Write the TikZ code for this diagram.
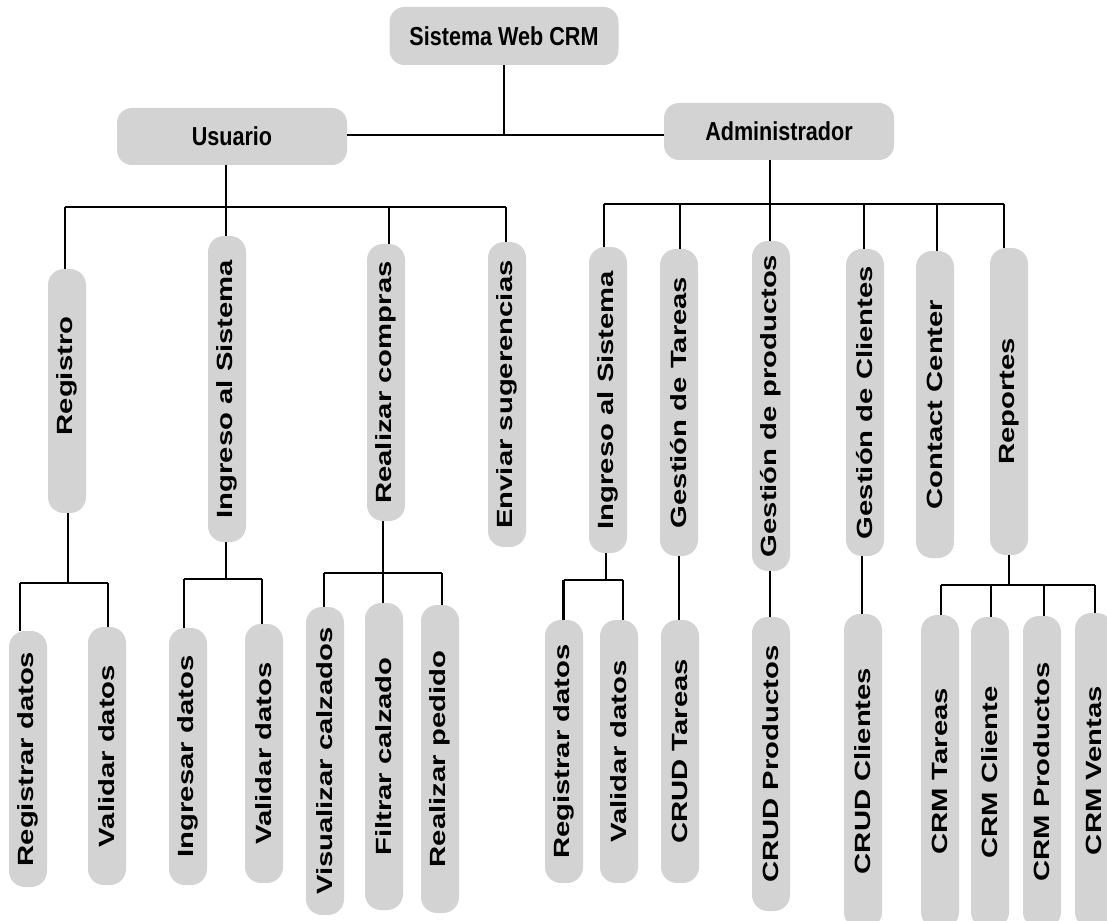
\documentclass[tikz,border=0pt]{standalone}
\usepackage{fontspec}
\setmainfont{Liberation Sans}
\newfontfamily\headfont[FakeStretch=0.83]{Liberation Sans}
\newfontfamily\sidefont[FakeStretch=1.33]{Liberation Sans}
\definecolor{boxgray}{RGB}{211,211,211}
\tikzset{
  box/.style={fill=boxgray, rounded corners=15pt, inner sep=0pt,
    font=\headfont\bfseries\fontsize{26}{28}\selectfont},
  tall/.style={fill=boxgray, rounded corners=16pt, inner sep=0pt,
    minimum height=38pt, rotate=90,
    font=\sidefont\bfseries\fontsize{22}{24}\selectfont},
  wire/.style={line width=2.8pt, black}
}
\begin{document}
\begin{tikzpicture}[x=1pt,y=-1pt]
\fill[white] (0,0) rectangle (1107,920);
\useasboundingbox (0,0) rectangle (1107,920);
\clip (0,0) rectangle (1107,920);

% top levels
\node[box, minimum width=229pt, minimum height=58pt] (top) at (504,36) {Sistema Web CRM};
\node[box, minimum width=230pt, minimum height=57pt] (usr) at (232,136.5) {Usuario};
\node[box, minimum width=230pt, minimum height=57pt] (adm) at (779,131.5) {Administrador};

% user branches
\node[tall, minimum width=244pt] (reg)  at (67,391)    {\hspace*{30pt}Registro};
\node[tall, minimum width=306pt] (ingu) at (227,389)   {Ingreso al Sistema};
\node[tall, minimum width=277pt] (rea)  at (386,382.5) {Realizar compras};
\node[tall, minimum width=305pt] (env)  at (507,394.5) {Enviar sugerencias};

% admin branches
\node[tall, minimum width=306pt] (inga) at (608,400)   {Ingreso al Sistema};
\node[tall, minimum width=307pt] (gtar) at (679,402.5) {Gestión de Tareas};
\node[tall, minimum width=330pt] (gpro) at (771,406)   {Gestión de productos};
\node[tall, minimum width=307pt] (gcli) at (865,402.5) {Gestión de Clientes};
\node[tall, minimum width=307pt] (cont) at (935,404.5) {Contact Center};
\node[tall, minimum width=307pt] (rep)  at (1009,401.5) {Reportes};

% leaves
\node[tall, minimum width=256pt] (regd)  at (28,759)    {Registrar datos};
\node[tall, minimum width=258pt] (vald1) at (107,756)   {Validar datos};
\node[tall, minimum width=257pt] (ingd)  at (188,756.5) {Ingresar datos};
\node[tall, minimum width=259pt] (vald2) at (264,753.5) {Validar datos};
\node[tall, minimum width=308pt] (vis)   at (325,761)   {Visualizar calzados};
\node[tall, minimum width=307pt] (fil)   at (384,756.5) {Filtrar calzado};
\node[tall, minimum width=308pt] (rped)  at (440,759)   {Realizar pedido};
\node[tall, minimum width=263pt] (regda) at (564,751.5) {Registrar datos};
\node[tall, minimum width=263pt] (valda) at (619,751.5) {Validar datos};
\node[tall, minimum width=263pt] (crudt) at (680,751.5) {CRUD Tareas};
\node[tall, minimum width=294pt] (crudp) at (771,764)   {CRUD Productos};
\node[tall, minimum width=314pt] (crudc) at (863,771)   {CRUD Clientes};
\node[tall, minimum width=313pt] (crmt)  at (940,771.5) {CRM Tareas};
\node[tall, minimum width=311pt] (crmc)  at (990,772.5) {CRM Cliente};
\node[tall, minimum width=312pt] (crmp)  at (1042,772)  {CRM Productos};
\node[tall, minimum width=315pt] (crmv)  at (1094,770.5) {CRM Ventas};

% junction points
\coordinate (tj) at (504,135);
\coordinate (ub) at (226,207);
\coordinate (ubl) at (65,207);
\coordinate (ubr) at (506,207);
\coordinate (ub3) at (389,207);
\coordinate (ab) at (770,204);
\coordinate (abl) at (604,204);
\coordinate (abr) at (1004,204);
\coordinate (ab2) at (680,204);
\coordinate (ab4) at (864,204);
\coordinate (ab5) at (937,204);
\coordinate (rj) at (68,583);
\coordinate (rjl) at (20,583);
\coordinate (rjr) at (108,583);
\coordinate (ij) at (226,579);
\coordinate (ijl) at (184,579);
\coordinate (ijr) at (262,579);
\coordinate (cj) at (383,573);
\coordinate (cjl) at (324,573);
\coordinate (cjr) at (442,573);
\coordinate (aj) at (606,580);
\coordinate (ajl) at (563.5,580);
\coordinate (ajr) at (623,580);
\coordinate (pj) at (1009,585);
\coordinate (pjl) at (941,585);
\coordinate (pj2) at (991,585);
\coordinate (pj3) at (1044,585);
\coordinate (pjr) at (1095,585);

% root connectors
\draw[wire] (top.south -| tj) -- (tj);
\draw[wire] (usr.east |- tj) -- (adm.west |- tj);

% user tree
\draw[wire] (usr.south -| ub) -- (ub);
\draw[wire] (ubl) -- (ubr);
\draw[wire] (ubl) -- (ubl |- reg.east);
\draw[wire] (ub) -- (ub |- ingu.east);
\draw[wire] (ub3) -- (ub3 |- rea.east);
\draw[wire] (ubr) -- (ubr |- env.east);

\draw[wire] (reg.west -| rj) -- (rj);
\draw[wire] (rjl) -- (rjr);
\draw[wire] (rjl) -- (rjl |- regd.east);
\draw[wire] (rjr) -- (rjr |- vald1.east);

\draw[wire] (ingu.west -| ij) -- (ij);
\draw[wire] (ijl) -- (ijr);
\draw[wire] (ijl) -- (ijl |- ingd.east);
\draw[wire] (ijr) -- (ijr |- vald2.east);

\draw[wire] (rea.west -| cj) -- (cj);
\draw[wire] (cjl) -- (cjr);
\draw[wire] (cjl) -- (cjl |- vis.east);
\draw[wire] (cj) -- (cj |- fil.east);
\draw[wire] (cjr) -- (cjr |- rped.east);

% admin tree
\draw[wire] (adm.south -| ab) -- (ab);
\draw[wire] (abl) -- (abr);
\draw[wire] (abl) -- (abl |- inga.east);
\draw[wire] (ab2) -- (ab2 |- gtar.east);
\draw[wire] (ab) -- (ab |- gpro.east);
\draw[wire] (ab4) -- (ab4 |- gcli.east);
\draw[wire] (ab5) -- (ab5 |- cont.east);
\draw[wire] (abr) -- (abr |- rep.east);

\draw[wire] (inga.west -| aj) -- (aj);
\draw[wire] (ajl) -- (ajr);
\draw[wire] (ajl) -- (ajl |- regda.east);
\draw[wire] (ajr) -- (ajr |- valda.east);

\draw[wire] (gtar.west) -- (crudt.east -| gtar.west);
\draw[wire] (gpro.west -| 770,0) -- (crudp.east -| 770,0);
\draw[wire] (gcli.west -| 862,0) -- (crudc.east -| 862,0);

\draw[wire] (rep.west) -- (pj);
\draw[wire] (pjl) -- (pjr);
\draw[wire] (pjl) -- (pjl |- crmt.east);
\draw[wire] (pj2) -- (pj2 |- crmc.east);
\draw[wire] (pj3) -- (pj3 |- crmp.east);
\draw[wire] (pjr) -- (pjr |- crmv.east);
\end{tikzpicture}
\end{document}
